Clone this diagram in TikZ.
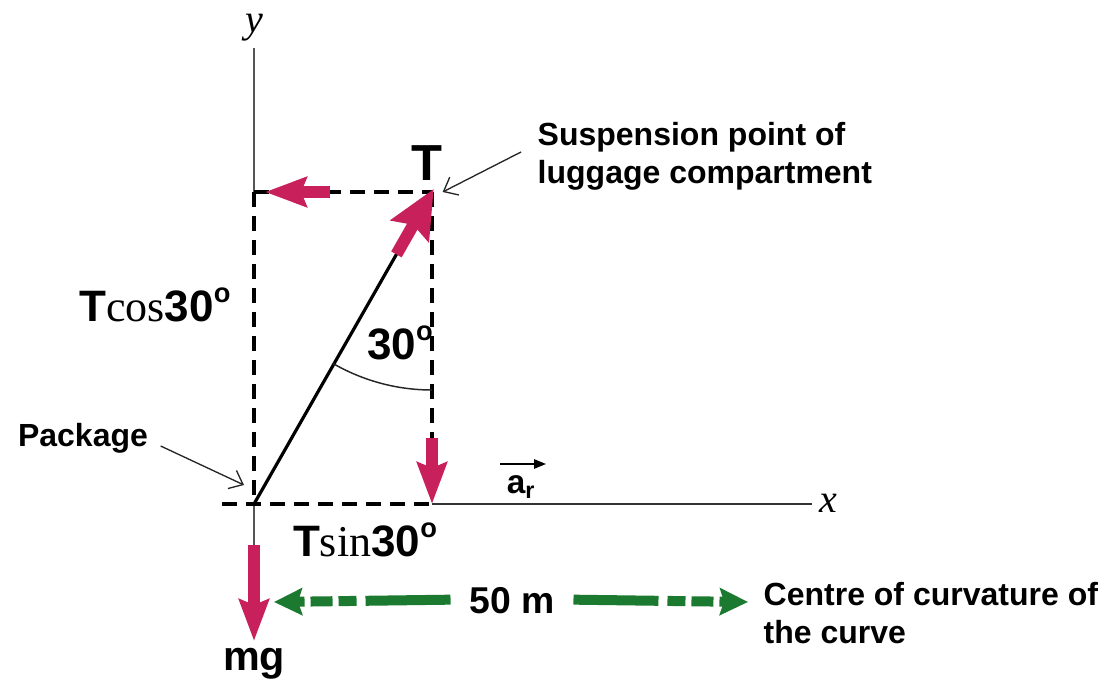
\documentclass[tikz,border=0pt]{standalone}
\usepackage{fontspec}
\setmainfont{Liberation Serif}
\setsansfont{Liberation Sans}
\usetikzlibrary{arrows.meta,positioning,calc}
\definecolor{forcered}{HTML}{C8205A}
\definecolor{spangreen}{HTML}{1B7A2F}
\definecolor{axisgray}{HTML}{555555}
\newcommand{\dg}{\raisebox{0.45em}{\scalebox{0.62}{o}}}

\begin{document}
\begin{tikzpicture}[
  x=0.75pt,y=-0.75pt,
  font=\sffamily\bfseries\fontsize{24}{28.5}\selectfont,
  axis/.style={line width=1.5pt,draw=axisgray},
  guide/.style={line width=2.8pt,dash pattern=on 11pt off 7pt},
  cord/.style={line width=2.4pt},
  forcearrow/.style={draw=forcered,line width=9pt,-{Stealth[length=31pt,width=22pt,inset=4pt]}},
  pointer/.style={line width=1pt,draw=black!85,-{Straight Barb[length=9pt,width=15pt]}},
  spanarrow/.style={draw=spangreen,line width=7.5pt,
    dash pattern=on 63.75pt off 6.75pt on 13.5pt off 4.5pt on 16.5pt off 4.5pt,
    -{Stealth[length=21pt,width=20pt,inset=3pt]}},
  axislabel/.style={font=\rmfamily\itshape\fontsize{30}{30}\selectfont},
  comp/.style={font=\sffamily\bfseries\fontsize{33}{33}\selectfont}
]
\useasboundingbox (0,0) rectangle (1110,688);

% frame points
\coordinate (O) at (254,504);
\coordinate (P) at (432,192);
\coordinate (ytop) at (254,48);
\coordinate (yref) at (254,192);
\coordinate (xleft) at (222,504);
\coordinate (xfoot) at (432,504);
\coordinate (xend) at (812,504);
\coordinate (ybot) at (254,545);
\coordinate (Pv) at (432,438);

% axes and guides
\draw[axis] (ytop) -- (yref);
\draw[guide] (yref) -- (O);
\draw[axis] (O) -- (ybot);
\draw[guide] (xleft) -- (xfoot);
\draw[line width=2.2pt,draw=black!80] (xfoot) -- (xend);
\draw[guide] (yref) -- (P);
\draw[guide] (P) -- (Pv);
\node[axislabel] (ylab) at (254,28) {y};
\node[axislabel] (xlab) at (828,503) {x};

% cord and angle
\draw[cord] (O) -- (P);
\draw[line width=1.1pt,draw=black!85] ($(P)+(120:198)$) arc[start angle=120,end angle=90,radius=198];
\node[comp] (ang) at (400,343) {30\dg};

% forces
\draw[forcearrow,-{Stealth[length=36pt,width=32pt,inset=5pt]}] ($(O)!0.80!(P)$) -- ($(O)!1.01!(P)$);
\draw[forcearrow] (330,192) -- (265,192);
\draw[forcearrow] (Pv) -- (xfoot);
\draw[forcearrow] (ybot) -- (254,641);

\node[font=\sffamily\bfseries\fontsize{38}{38}\selectfont] (tlab) at (427,163) {T};
\node[comp] (tcos) at (155,305) {T{\rmfamily\mdseries cos}30\dg};
\node[comp] (tsin) at (365,540) {T{\rmfamily\mdseries sin}30\dg};
\node[font=\sffamily\bfseries\fontsize{31}{31}\selectfont] (mg) at (254,664) {mg};

% acceleration
\draw[line width=1.3pt,-{Triangle[length=9pt,width=7pt]}] (500,464) -- (546,464);
\node[font=\sffamily\bfseries\fontsize{25}{25}\selectfont] (ar) at (521,487) {a\textsubscript{r}};

% labels with pointers
\node[anchor=west,align=left] (susp) at (533,156) {Suspension point of\\luggage compartment};
\draw[pointer] ([shift={(-12,-4)}]susp.west) -- ([xshift=8]P);
\node (pkg) at (83,438) {Package};
\draw[pointer] ([shift={(8,8)}]pkg.east) -- ([shift={(-10,-19)}]O);

% distance to centre
\node[font=\sffamily\bfseries\fontsize{28}{28}\selectfont,inner xsep=14pt] (dist) at (512,601) {50 m};
\coordinate (spanL) at (274,602);
\coordinate (spanR) at (748,602);
\draw[spanarrow] ([yshift=1]dist.west) -- (spanL);
\draw[spanarrow] ([yshift=1]dist.east) -- (spanR);
\node[anchor=west,align=left] (centre) at (759,613) {Centre of curvature of\\the curve};
\end{tikzpicture}
\end{document}
